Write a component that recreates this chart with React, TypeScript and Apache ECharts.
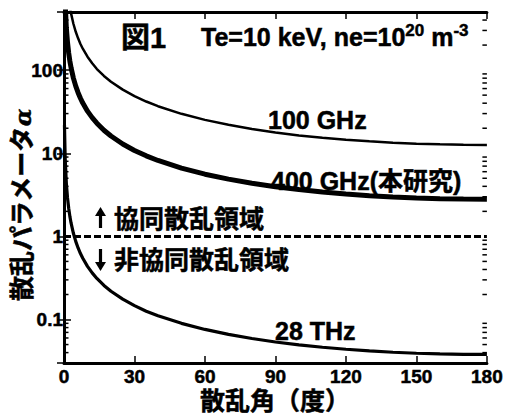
import React, { useEffect, useRef } from "react";
import * as echarts from "echarts";

// Scattering angle (degrees)
const angles = [0.2, 0.5, 1, 1.5, 2, 2.5, 3, 4, 5, 6, 7, 8, 10, 12, 14, 17, 20, 25, 30, 35, 40, 50, 60, 70, 80, 90, 100, 110, 120, 130, 140, 150, 160, 170, 180];
// Scattering parameter alpha
const alpha100GHz = [7200, 2890, 1444, 963, 722, 578, 481, 361, 289, 241, 206, 181, 145, 121, 103, 85, 72.6, 58.2, 48.7, 41.9, 36.8, 29.8, 25.2, 22.0, 19.6, 17.8, 16.4, 15.4, 14.5, 13.9, 13.4, 13.0, 12.8, 12.65, 12.6];
const alpha400GHz = [1604, 642, 321, 214, 160, 128, 107, 80.2, 64.2, 53.5, 45.9, 40.1, 32.1, 26.8, 23.0, 18.9, 16.1, 12.9, 10.8, 9.31, 8.19, 6.63, 5.6, 4.88, 4.36, 3.96, 3.66, 3.42, 3.23, 3.09, 2.98, 2.9, 2.84, 2.81, 2.8];
const alpha28THz = [21.8, 8.7, 4.35, 2.9, 2.18, 1.74, 1.45, 1.09, 0.871, 0.726, 0.622, 0.545, 0.436, 0.364, 0.312, 0.257, 0.219, 0.176, 0.147, 0.126, 0.111, 0.09, 0.076, 0.0663, 0.0591, 0.0537, 0.0496, 0.0464, 0.0439, 0.0419, 0.0404, 0.0393, 0.0386, 0.0381, 0.038];
const boundaryAlpha = [1];

const xTickLabels = [0, 30, 60, 90, 120, 150, 180];
const yTickLabels = [0.1, 1, 10, 100];
const yMinorTicks = [0.04, 0.05, 0.06, 0.07, 0.08, 0.09, 0.2, 0.3, 0.4, 0.5, 0.6, 0.7, 0.8, 0.9, 2, 3, 4, 5, 6, 7, 8, 9, 20, 30, 40, 50, 60, 70, 80, 90, 200, 300, 400];

const FONT = "'Liberation Sans', Arial, Helvetica, 'Noto Sans CJK JP', sans-serif";
const STROKE = { textBorderColor: "#000", textBorderWidth: 0.5 };

export default function App() {
  const ref = useRef<HTMLDivElement>(null);
  useEffect(() => {
    if (!ref.current) return;
    const chart = echarts.init(ref.current, null, { renderer: "svg" });
    const txt = (text: string, x: number, y: number, size: number, extra: any = {}) => ({
      type: "text",
      x,
      y,
      silent: true,
      style: {
        text,
        fill: "#000",
        fontFamily: FONT,
        fontWeight: "bold",
        fontSize: size,
        align: "left",
        verticalAlign: "middle",
        stroke: "#000",
        lineWidth: 0.5,
        ...extra,
      },
    });
    const arrow = (x: number, y0: number, y1: number) => {
      // y0: tip, y1: tail
      const dir = y1 > y0 ? 1 : -1;
      const headLen = 9;
      return [
        {
          type: "polygon",
          silent: true,
          shape: { points: [[x - 5.5, y0 + dir * headLen], [x, y0], [x + 5.5, y0 + dir * headLen]] },
          style: { fill: "#000" },
        },
        {
          type: "rect",
          silent: true,
          shape: { x: x - 1.6, y: Math.min(y0 + dir * (headLen - 1), y1), width: 3.2, height: Math.abs(y1 - (y0 + dir * (headLen - 1))) },
          style: { fill: "#000" },
        },
      ];
    };
    const yLabel = (v: number) => {
      const t = yTickLabels.find((t) => Math.abs(Math.log10(v) - Math.log10(t)) < 1e-6);
      return t === undefined ? "" : String(t);
    };
    const line = (vals: number[], width: number) => ({
      type: "line",
      data: angles.map((a, i) => [a, vals[i]]),
      symbol: "none",
      clip: true,
      lineStyle: { color: "#000", width },
      z: 3,
    });
    const axisLine = { lineStyle: { color: "#000", width: 3 } };
    const axisTick = { inside: true, length: 7, lineStyle: { color: "#000", width: 1.5 } };
    const tickFont = { color: "#000", fontFamily: FONT, fontWeight: "bold", fontSize: 19, ...STROKE };
    chart.setOption({
      animation: false,
      backgroundColor: "#fff",
      grid: { left: 64, top: 12, width: 426, height: 351, show: false },
      xAxis: [
        {
          type: "value",
          min: 0,
          max: 180,
          interval: 30,
          axisLine,
          axisTick,
          splitLine: { show: false },
          axisLabel: {
            ...tickFont,
            margin: 4,
            formatter: (v: number) => (xTickLabels.includes(v) ? String(v) : ""),
          },
        },
        {
          type: "value",
          position: "top",
          min: 0,
          max: 180,
          interval: 30,
          axisLine,
          axisTick,
          splitLine: { show: false },
          axisLabel: { show: false },
        },
      ],
      yAxis: [
        {
          type: "log",
          min: 0.03,
          max: 500,
          axisLine,
          axisTick,
          splitLine: { show: false },
          axisLabel: {
            ...tickFont,
            margin: 1,
            showMinLabel: false,
            showMaxLabel: false,
            formatter: yLabel,
          },
        },
        {
          type: "log",
          position: "right",
          min: 0.03,
          max: 500,
          axisLine,
          axisTick,
          splitLine: { show: false },
          axisLabel: { show: false },
        },
      ],
      series: [
        line(alpha100GHz, 2.5),
        line(alpha400GHz, 5),
        line(alpha28THz, 3.2),
        {
          type: "line",
          data: [
            [0, boundaryAlpha[0]],
            [180, boundaryAlpha[0]],
          ],
          symbol: "none",
          lineStyle: { color: "#000", width: 3, type: [7, 3] },
          z: 2,
        },
        {
          type: "custom",
          data: yMinorTicks.map((v) => [0, v]),
          clip: false,
          z: 4,
          renderItem: (params: any, api: any) => {
            const v = api.value(1);
            const l = api.coord([0, v]);
            const r = api.coord([180, v]);
            const st = { stroke: "#000", lineWidth: 1.5 };
            return {
              type: "group",
              children: [
                { type: "line", shape: { x1: l[0], y1: l[1], x2: l[0] + 4.5, y2: l[1] }, style: st },
                { type: "line", shape: { x1: r[0] - 4.5, y1: r[1], x2: r[0], y2: r[1] }, style: st },
              ],
            };
          },
        },
      ],
      graphic: [
        txt("図1", 121, 38, 29),
        {
          type: "text",
          x: 201,
          y: 37,
          silent: true,
          style: {
            text: "{b|Te=10 keV, ne=10}{s|20}{b| m}{s|-3}",
            fill: "#000",
            stroke: "#000",
            lineWidth: 0.5,
            align: "left",
            verticalAlign: "middle",
            rich: {
              b: { fontFamily: FONT, fontWeight: "bold", fontSize: 25, lineHeight: 30, fill: "#000" },
              s: { fontFamily: FONT, fontWeight: "bold", fontSize: 17, lineHeight: 17, verticalAlign: "top", fill: "#000" },
            },
          },
        },
        txt("100 GHz", 268, 120, 25),
        txt("400 GHz(本研究)", 271, 181, 25),
        ...arrow(100.5, 207, 228),
        txt("協同散乱領域", 114, 219, 25),
        ...arrow(100.5, 271, 249),
        txt("非協同散乱領域", 114, 260, 25),
        txt("28 THz", 275, 331, 25),
        {
          type: "text",
          x: 22,
          y: 205,
          rotation: Math.PI / 2,
          silent: true,
          style: {
            text: "{c|散乱パラメータ}{a|α}",
            align: "center",
            verticalAlign: "middle",
            stroke: "#000",
            lineWidth: 0.5,
            rich: {
              c: { fontFamily: FONT, fontWeight: "bold", fontSize: 25, fill: "#000" },
              a: { fontFamily: "'DejaVu Serif', serif", fontStyle: "italic", fontWeight: "bold", fontSize: 23, fill: "#000" },
            },
          },
        },
        txt("散乱角（度）", 275, 401, 25, { align: "center" }),
      ],
    });
    return () => chart.dispose();
  }, []);
  return (
    <div
      ref={ref}
      style={{ position: "fixed", left: 0, top: 0, width: 506, height: 414, background: "#fff" }}
    />
  );
}
